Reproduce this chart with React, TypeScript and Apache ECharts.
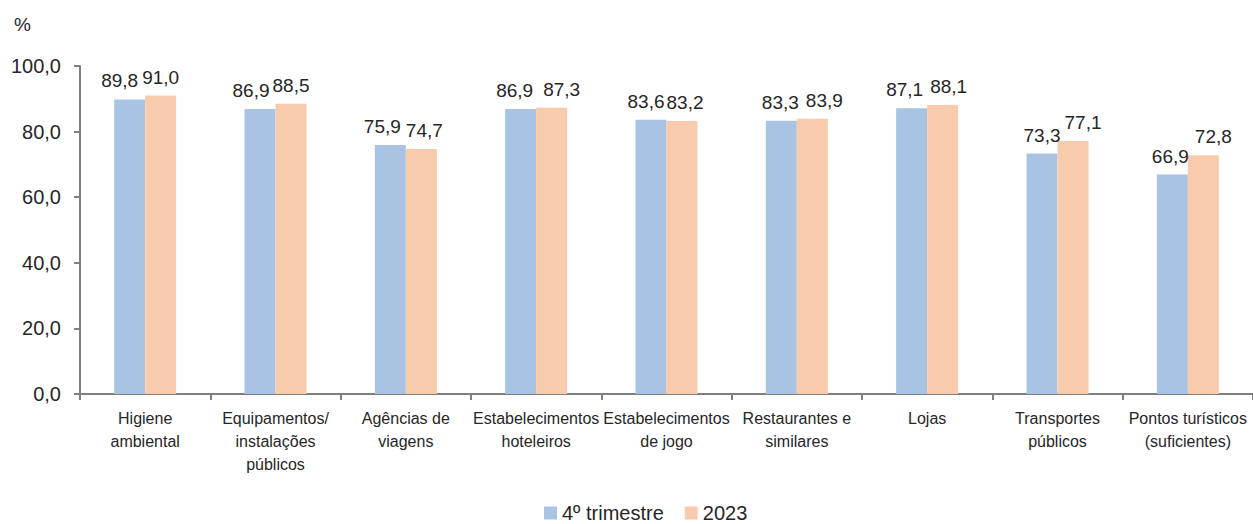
import React, { useEffect, useRef } from "react";
import * as echarts from "echarts";

const categories = [
  "Higiene\nambiental",
  "Equipamentos/\ninstalações\npúblicos",
  "Agências de\nviagens",
  "Estabelecimentos\nhoteleiros",
  "Estabelecimentos\nde jogo",
  "Restaurantes e\nsimilares",
  "Lojas",
  "Transportes\npúblicos",
  "Pontos turísticos\n(suficientes)",
];
const seriesNames = ["4º trimestre", "2023"];
const q4Values = [89.8, 86.9, 75.9, 86.9, 83.6, 83.3, 87.1, 73.3, 66.9];
const yearValues = [91.0, 88.5, 74.7, 87.3, 83.2, 83.9, 88.1, 77.1, 72.8];
// horizontal nudges of the value labels (to keep neighbouring labels apart, as in the reference)
const q4LabelShift = [-10, -9, -8, -6, -5, -1, -7, 0, -2];
const yearLabelShift = [0, 0, 3, 10, 3, 12, 6, 10, 10];
const colors = ["#A9C4E2", "#F8CBAD"];

const fmt = (v: number) => v.toFixed(1).replace(".", ",");
const FONT = "'Liberation Sans', Arial, sans-serif";

export default function App() {
  const ref = useRef<HTMLDivElement>(null);
  useEffect(() => {
    const chart = echarts.init(ref.current!, null, { renderer: "svg" });
    const mk = (name: string, data: number[], shifts: number[], color: string) => ({
      name,
      type: "bar",
      data: data.map((v, i) => ({ value: v, label: { offset: [shifts[i], 0] } })),
      barWidth: 31,
      barGap: "0%",
      itemStyle: { color },
      label: {
        show: true,
        position: "top",
        distance: 9,
        color: "#262626",
        fontSize: 19,
        fontFamily: FONT,
        formatter: (p: any) => fmt(p.value),
      },
    });
    chart.setOption({
      animation: false,
      textStyle: { fontFamily: FONT },
      grid: { left: 80, right: 0, top: 66, bottom: 130 },
      graphic: [
        {
          type: "text",
          left: 14,
          top: 15,
          style: { text: "%", fontSize: 19, fill: "#262626", fontFamily: FONT },
        },
      ],
      legend: {
        top: 498,
        left: 539,
        itemWidth: 13,
        itemHeight: 13,
        itemGap: 21,
        icon: "rect",
        textStyle: { fontSize: 20, color: "#262626", fontFamily: FONT },
        data: seriesNames,
      },
      xAxis: {
        type: "category",
        data: categories,
        axisLine: { lineStyle: { color: "#7f7f7f", width: 2 } },
        axisTick: { show: true, length: 6, lineStyle: { color: "#7f7f7f", width: 2 } },
        axisLabel: {
          color: "#262626",
          fontSize: 16,
          lineHeight: 23,
          margin: 13,
          fontFamily: FONT,
          interval: 0,
        },
      },
      yAxis: {
        type: "value",
        min: 0,
        max: 100,
        interval: 20,
        splitLine: { show: false },
        axisLine: { show: true, lineStyle: { color: "#7f7f7f", width: 2 } },
        axisTick: { show: true, length: 6, lineStyle: { color: "#7f7f7f", width: 2 } },
        axisLabel: {
          color: "#262626",
          fontSize: 20,
          margin: 19,
          fontFamily: FONT,
          formatter: (v: number) => fmt(v),
        },
      },
      series: [
        mk(seriesNames[0], q4Values, q4LabelShift, colors[0]),
        mk(seriesNames[1], yearValues, yearLabelShift, colors[1]),
      ],
    });
    return () => chart.dispose();
  }, []);
  return <div ref={ref} style={{ width: 1253, height: 524, position: "absolute", left: 0, top: 0 }} />;
}
